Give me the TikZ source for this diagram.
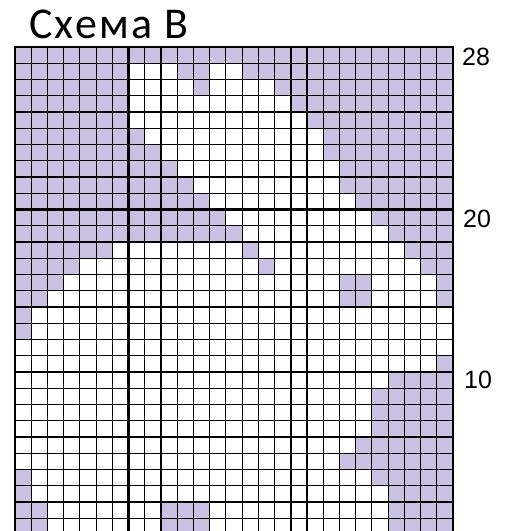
\documentclass[tikz,border=0pt]{standalone}
\usepackage{fontspec}
\setmainfont{Liberation Sans}
\newfontfamily\titlefont[LetterSpace=5]{Carlito}
\definecolor{cellpurple}{RGB}{202,193,226}
\tikzset{
  cellfill/.style={fill=cellpurple},
  thinline/.style={draw=black, line width=1.1pt},
  thickline/.style={draw=black, line width=2.2pt},
  borderline/.style={draw=black, line width=2.8pt},
  numlabel/.style={font=\fontsize{25}{28}\selectfont, inner sep=0pt, anchor=west},
}
\begin{document}
\begin{tikzpicture}[x=1pt,y=-1pt]
\def\cw{16.2222}
\def\rh{16.25}
\useasboundingbox (0,0) rectangle (505,531);
\clip (0,0) rectangle (505,531);
\fill[white] (0,0) rectangle (505,531);
% purple cells: row/first column/last column
\foreach \r/\a/\b in {
  0/0/26,
  1/0/6, 1/10/11, 1/14/26,
  2/0/6, 2/11/11, 2/16/26,
  3/0/6, 3/17/26,
  4/0/6, 4/18/26,
  5/0/7, 5/19/26,
  6/0/8, 6/19/26,
  7/0/9, 7/20/26,
  8/0/10, 8/20/26,
  9/0/11, 9/21/26,
  10/0/12, 10/22/26,
  11/0/13, 11/23/26,
  12/0/5, 12/14/14, 12/24/26,
  13/0/3, 13/15/15, 13/25/26,
  14/0/2, 14/20/21, 14/26/26,
  15/0/1, 15/20/21, 15/26/26,
  16/0/0, 17/0/0,
  19/26/26,
  20/23/26, 21/22/26, 22/22/26, 23/22/26,
  24/21/26, 25/20/26,
  26/0/0, 26/22/26,
  27/0/0, 27/23/26,
  28/0/1, 28/9/11, 28/23/26,
  29/0/1, 29/9/11, 29/23/26}
  \fill[cellfill] ({15+\a*\cw},{47+\r*\rh}) rectangle ({15+(\b+1)*\cw},{47+(\r+1)*\rh});
% thin grid lines
\foreach \i in {1,...,26}
  \draw[thinline] ({15+\i*\cw},47) -- ({15+\i*\cw},545);
\foreach \j in {1,...,30}
  \draw[thinline] (15,{47+\j*\rh}) -- (453,{47+\j*\rh});
% thick lines every ten cells
\foreach \i in {7,17}
  \draw[thickline] ({15+\i*\cw},47) -- ({15+\i*\cw},545);
\foreach \j in {10,20}
  \draw[thickline] (15,{47+\j*\rh}) -- (453,{47+\j*\rh});
% outer border
\draw[borderline] (15,545) -- (15,47) -- (453,47) -- (453,545);
% labels
\node[anchor=base west, inner sep=0pt, font=\titlefont\fontsize{44}{48}\selectfont] (title) at (29,38) {Схема В};
\node[numlabel] (l28) at (462,56.5) {28};
\node[numlabel] (l20) at (463,218.5) {20};
\node[numlabel] (l10) at (464,380) {10};
\end{tikzpicture}
\end{document}
